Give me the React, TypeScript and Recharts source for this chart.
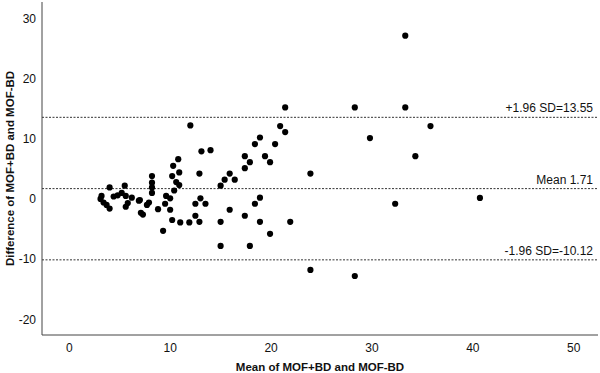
import React from "react";
import {
  ScatterChart,
  Scatter,
  XAxis,
  YAxis,
  ReferenceLine,
} from "recharts";

// Mean of MOF+BD and MOF-BD (x) and their difference (y)
const meanValues = [
  3.1, 3.2, 3.4, 3.7, 4.0, 4.0, 4.4, 4.8, 5.2, 5.5, 5.6, 6.2, 5.8, 5.6, 6.9, 7.0,
  7.1, 7.3, 7.9, 7.7, 8.2, 8.2, 8.2, 8.2, 8.8, 9.3, 9.5, 9.6, 10.0, 10.0, 10.2,
  11.0, 11.9, 12.5, 12.5, 12.9, 10.4, 10.2, 10.6, 10.9, 10.9, 10.3, 10.8, 12.9,
  12.0, 13.1, 14.0, 13.0, 13.5, 15.0, 15.4, 15.9, 16.4, 17.4, 17.9, 17.4, 19.4,
  19.9, 18.4, 18.9, 20.4, 20.9, 21.4, 21.4, 18.9, 18.4, 15.9, 17.4, 15.0, 18.9,
  19.9, 15.0, 17.9, 21.9, 23.9, 23.9, 28.3, 28.3, 29.8, 32.3, 33.3, 33.3, 34.3,
  35.8, 40.7,
];
const diffValues = [
  0.0, 0.5, -0.6, -1.0, -1.6, 1.9, 0.4, 0.6, 1.0, 2.2, 0.5, 0.2, -0.7, -1.3,
  -0.3, -0.2, -2.3, -2.6, -0.6, -1.0, 3.8, 2.7, 1.9, 1.0, -1.7, -5.3, -0.8, 0.5,
  0.1, -1.8, -3.5, -3.9, -3.9, -0.8, -2.8, -3.8, 1.4, 3.8, 2.8, 2.3, 4.4, 5.5,
  6.6, 4.2, 12.2, 7.9, 8.1, 0.1, -0.8, 2.2, 3.2, 4.2, 3.2, 5.1, 6.1, 7.1, 7.1,
  6.1, 9.1, 10.2, 9.1, 12.1, 11.1, 15.2, 0.2, -0.8, -1.8, -2.8, -3.8, -3.8,
  -5.8, -7.8, -7.8, -3.8, 4.2, -11.8, 15.2, -12.8, 10.1, -0.8, 27.1, 15.2, 7.1,
  12.1, 0.17,
];

const upperLimit = 13.55;
const meanDiff = 1.71;
const lowerLimit = -10.12;
const limitLabels = ["+1.96 SD=13.55", "Mean 1.71", "-1.96 SD=-10.12"];

const xTicks = [0, 10, 20, 30, 40, 50];
const yTicks = [-20, -10, 0, 10, 20, 30];

const points = meanValues.map((m, i) => ({ mean: m, diff: diffValues[i] }));

const FONT = "'Liberation Sans', Arial, sans-serif";
const TEXT = "#111";
const AXIS = "#444";
const DASH = "#333";

const Dot = (props: any) => {
  const { cx, cy } = props;
  if (cx == null || cy == null) return null;
  return <circle cx={cx} cy={cy} r={3.1} fill="#000" />;
};

export default function App() {
  const refLabel = (text: string) => ({
    value: text,
    position: "insideBottomRight" as const,
    offset: 5,
    fill: TEXT,
    fontSize: 12,
    fontFamily: FONT,
  });
  return (
    <div style={{ position: "absolute", left: 0, top: 0, background: "#fff" }}>
      <ScatterChart
        width={600}
        height={373}
        margin={{ top: 2, right: 2, bottom: 0, left: 0 }}
      >
        <XAxis
          type="number"
          dataKey="mean"
          domain={[-2.7, 52.4]}
          ticks={xTicks}
          allowDataOverflow
          height={38}
          tickLine={false}
          axisLine={{ stroke: AXIS, strokeWidth: 1 }}
          tick={{ fill: TEXT, fontSize: 12, fontFamily: FONT }}
          tickMargin={2}
          label={{
            value: "Mean of MOF+BD and MOF-BD",
            position: "insideBottom",
            offset: 2,
            fill: TEXT,
            fontSize: 11.5,
            fontWeight: "bold",
            fontFamily: FONT,
          }}
        />
        <YAxis
          type="number"
          dataKey="diff"
          domain={[-22.6, 32.7]}
          ticks={yTicks}
          allowDataOverflow
          width={42}
          tickLine={false}
          axisLine={{ stroke: AXIS, strokeWidth: 1 }}
          tick={{ fill: TEXT, fontSize: 12, fontFamily: FONT }}
          tickMargin={0}
          label={{
            value: "Difference of MOF+BD and MOF-BD",
            angle: -90,
            position: "insideLeft",
            offset: 10,
            fill: TEXT,
            fontSize: 11.5,
            fontWeight: "bold",
            fontFamily: FONT,
            style: { textAnchor: "middle" },
          }}
        />
        <ReferenceLine
          y={upperLimit}
          stroke={DASH}
          strokeDasharray="2 1.5"
          strokeWidth={1}
          label={refLabel(limitLabels[0])}
        />
        <ReferenceLine
          y={meanDiff}
          stroke={DASH}
          strokeDasharray="2 1.5"
          strokeWidth={1}
          label={refLabel(limitLabels[1])}
        />
        <ReferenceLine
          y={lowerLimit}
          stroke={DASH}
          strokeDasharray="2 1.5"
          strokeWidth={1}
          label={refLabel(limitLabels[2])}
        />
        <Scatter
          data={points}
          fill="#000"
          shape={<Dot />}
          isAnimationActive={false}
        />
      </ScatterChart>
    </div>
  );
}
